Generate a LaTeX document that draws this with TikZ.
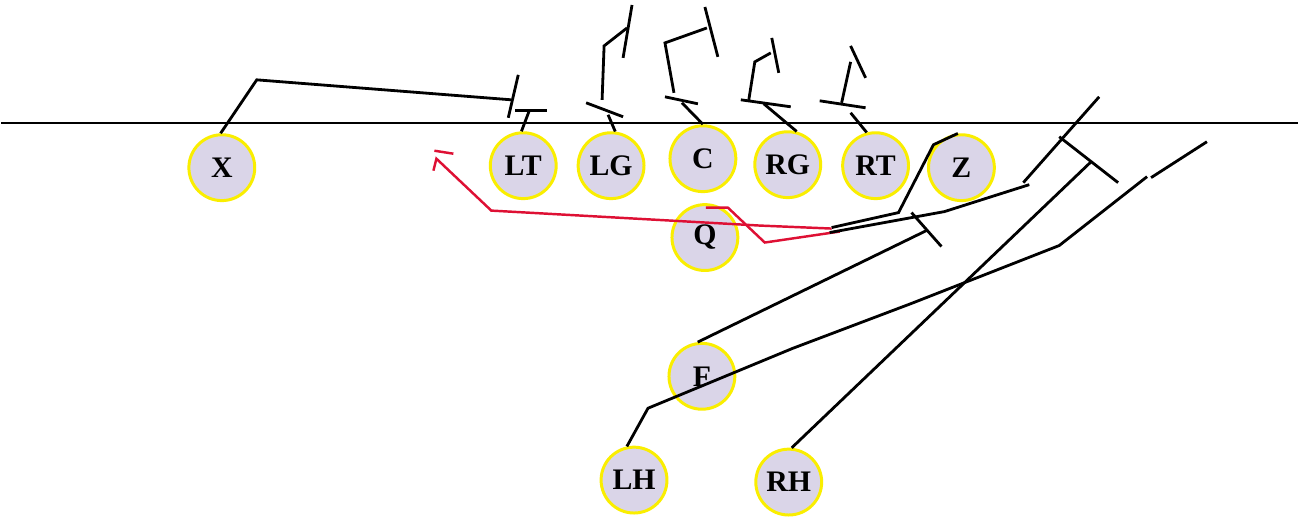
\documentclass[tikz,border=0pt]{standalone}
\usepackage{fontspec}
\setmainfont{Liberation Serif}
\usetikzlibrary{shapes}

\definecolor{playerfill}{RGB}{218,213,232}
\definecolor{playerring}{RGB}{250,238,0}
\definecolor{passred}{RGB}{222,16,52}

\begin{document}
\begin{tikzpicture}[x=0.02cm,y=-0.02cm,
playernode/.style={circle, draw=playerring, fill=playerfill, line width=1.7pt, minimum size=13.2mm, inner sep=0pt, font=\fontsize{17}{20}\selectfont\bfseries},
route/.style={line width=1.6pt},
passroute/.style={line width=1.4pt, draw=passred}
]
\fill[white] (0,0) rectangle (1299,519);

%Nodes
\node[playernode] at (221,168) (X) {X};
\node[playernode] at (523,166) (LT) {LT};
\node[playernode] at (611,166) (LG) {LG};
\node[playernode] at (703,159) (C) {C};
\node[playernode] at (788,165) (RG) {RG};
\node[playernode] at (876,166) (RT) {RT};
\node[playernode] at (962,168) (Z) {Z};
\node[playernode] at (705,238) (Q) {Q};
\node[playernode] at (702,377) (F) {F};
\node[playernode] at (634,481) (LH) {LH};
\node[playernode] at (789,483) (RH) {RH};

\coordinate (los-l) at (0,123);
\coordinate (los-r) at (1299,123);
\coordinate (q-set) at (706,208);

%Lines
\draw[line width=1.4pt] (los-l) -- (los-r);

\draw[route] (X.92) -- (256,80) -- (511,100);
\draw[route] (518,75) -- (508,118);
\draw[route] (LT.93) -- (529,111);
\draw[route] (515,111) -- (547,111);

\draw[route] (LG.83) -- (608,115);
\draw[route] (586,103) -- (623,117);
\draw[route] (602,100) -- (604,46) -- (627,28);
\draw[route] (632,5) -- (623,58);

\draw[route] (C.90) -- (682,103);
\draw[route] (665,97) -- (698,104);
\draw[route] (674,93) -- (665,43) -- (707,28);
\draw[route] (705,7) -- (718,57);

\draw[route] (RG.75) -- (764,104);
\draw[route] (741,100) -- (791,107);
\draw[route] (749,100) -- (755,62) -- (771,53);
\draw[route] (772,38) -- (779,73);

\draw[route] (RT.105) -- (851,113);
\draw[route] (820,101) -- (866,108);
\draw[route] (842,103) -- (851,62);
\draw[route] (851,46) -- (866,78);

\draw[passroute] (q-set) -- (728,208) -- (765,243) -- (840,232);
\draw[passroute] (832,229) -- (760,226) -- (491,211) -- (436,159) -- (433,171);
\draw[passroute] (434,151) -- (453,154);

\draw[route] (Z.96) -- (934,145) -- (899,213) -- (832,228);
\draw[route] (830,233) -- (945,212) -- (1030,185);
\draw[route] (1024,183) -- (1100,97);

\draw[route] (F.97) -- (927,231);
\draw[route] (912,213) -- (942,247);

\draw[route] (LH.102) -- (648,409) -- (793,349) -- (912,304) -- (1060,246) -- (1148,177);
\draw[route] (1152,178) -- (1208,142);

\draw[route] (RH.85) -- (1092,162);
\draw[route] (1060,137) -- (1119,183);

\end{tikzpicture}
\end{document}
